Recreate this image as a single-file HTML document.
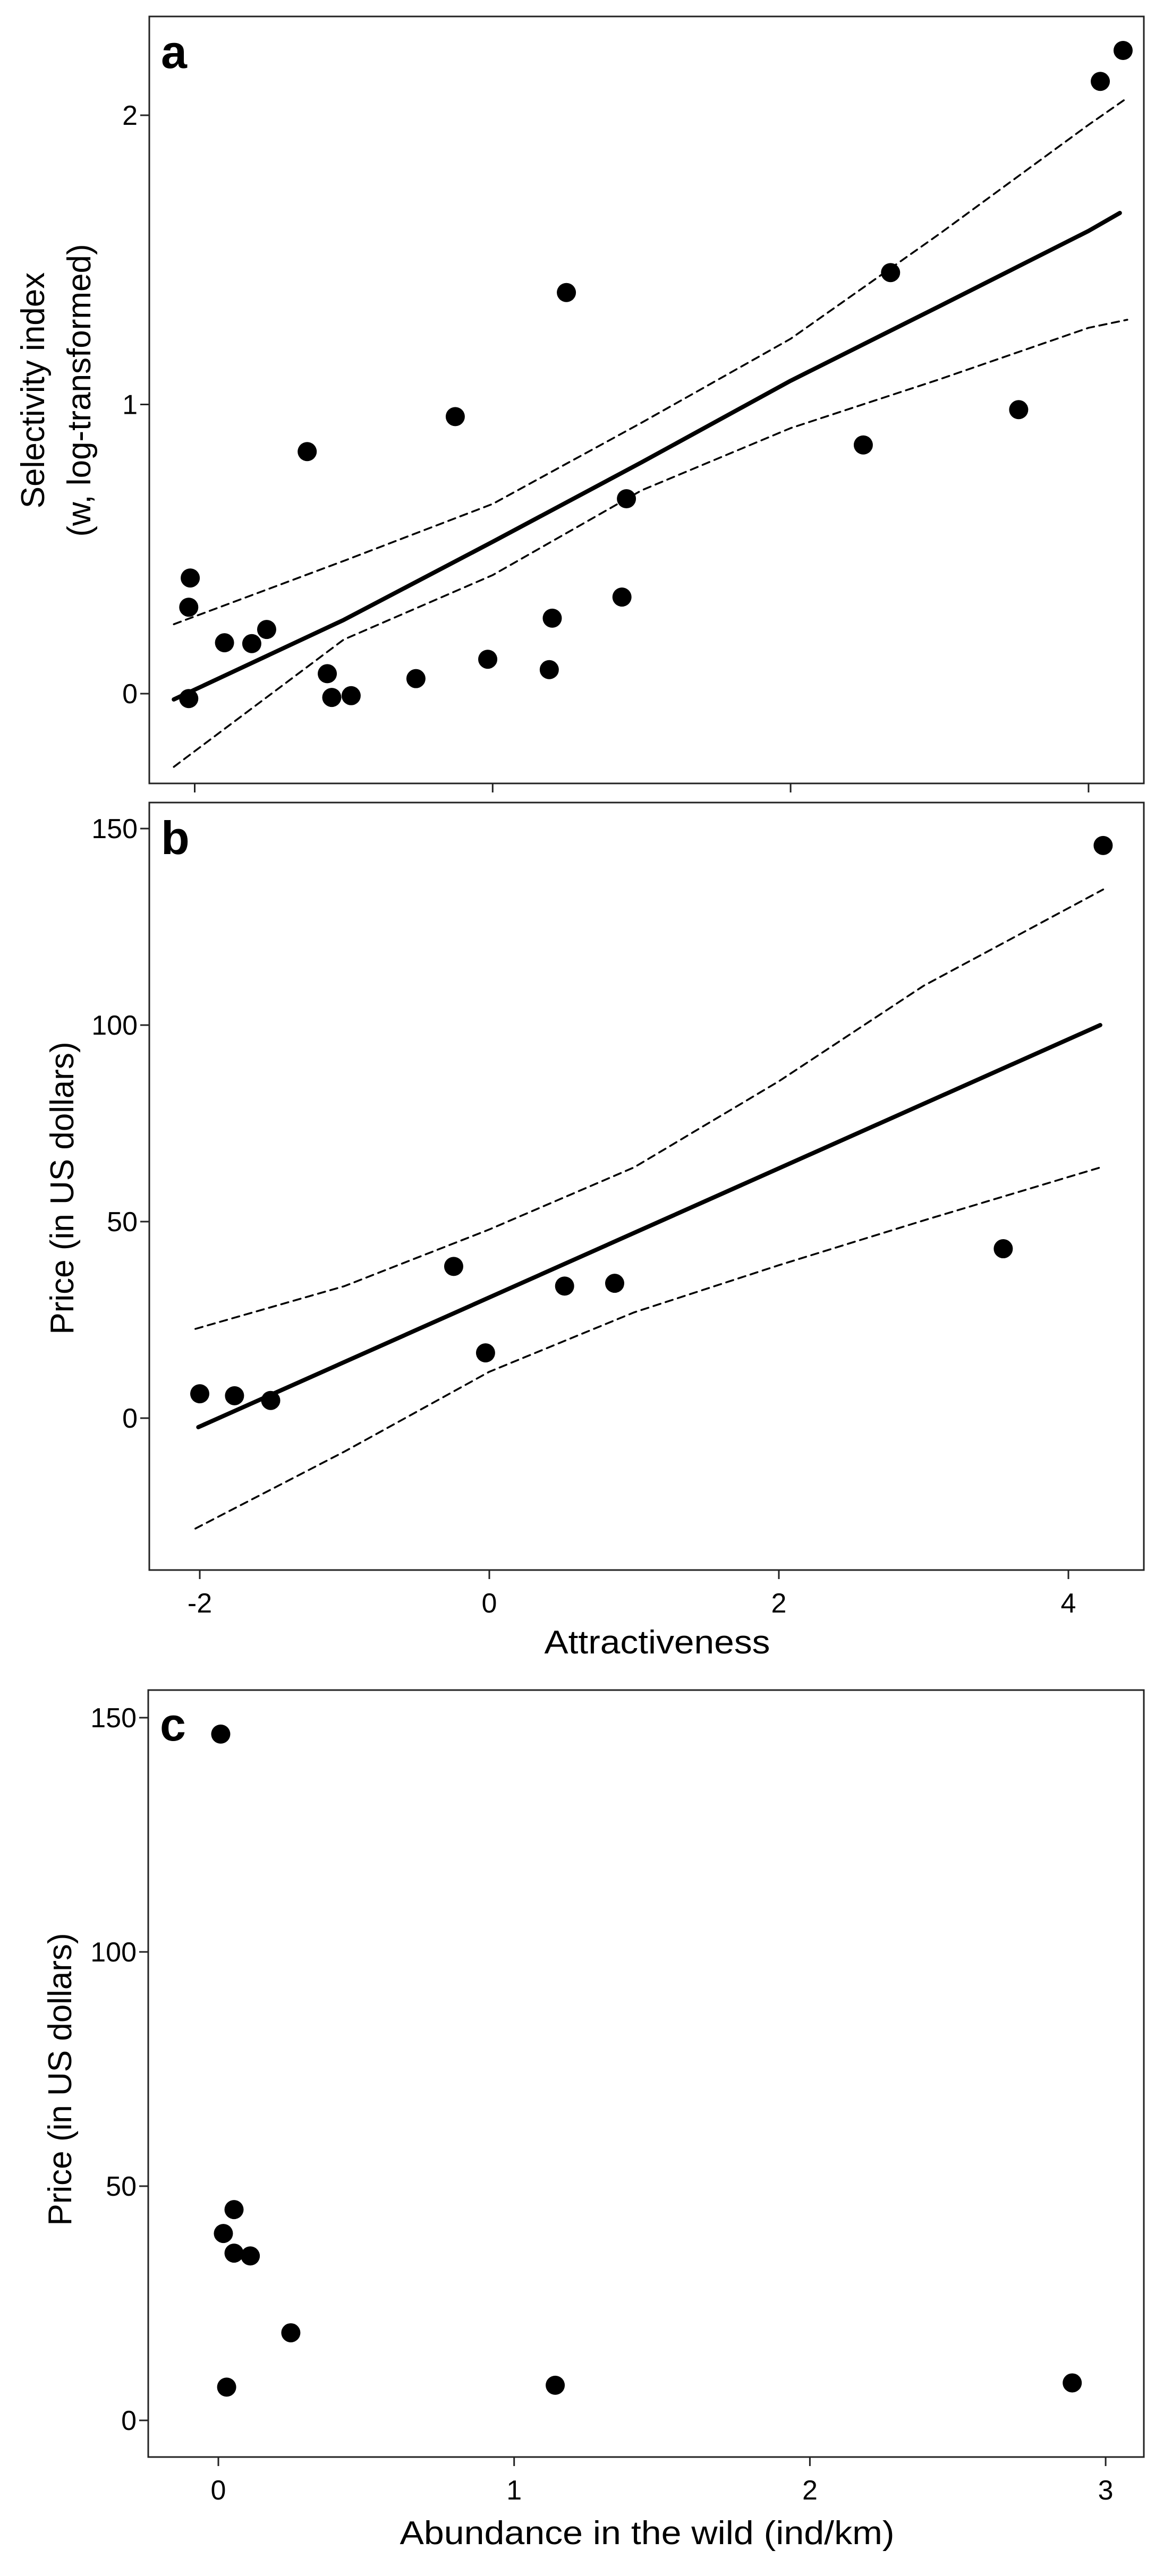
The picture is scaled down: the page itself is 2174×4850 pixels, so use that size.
<!DOCTYPE html>
<html><head><meta charset="utf-8"><style>
html,body{margin:0;padding:0;background:#fff}
svg{display:block}
text{font-family:"Liberation Sans",Arial,sans-serif;fill:#000}
.tick{font-size:52px}
.ttl{font-size:62px}
.lbl{font-size:88px;font-weight:bold}
</style></head><body>
<svg id="fig" width="2174" height="4850" viewBox="0 0 2174 4850" xmlns="http://www.w3.org/2000/svg">
<g id="pa"></g>
<g id="pb"></g>
<g id="pc"></g>
</svg>
<script>
// Panel a data
const aX = [4.232,4.079,2.671,0.495,3.531,2.488,-0.251,-1.245,0.898,-2.03,-2.04,0.868,0.40,-1.80,-1.617,-1.517,-1.11,-0.033,0.38,-0.515,-1.08,-0.95,-2.04];
const aY = [2.224,2.117,1.456,1.387,0.982,0.860,0.958,0.837,0.674,0.400,0.299,0.334,0.261,0.176,0.173,0.222,0.069,0.119,0.083,0.052,-0.013,-0.007,-0.017];
const aLineX = [-2.14,-1,0,1,2,3,4,4.21];
const aFit = [-0.02,0.255,0.525,0.80,1.082,1.34,1.60,1.662];
const aUpX = [-2.14,-1,0,1,2,3,4,4.26];
const aUp = [0.24,0.459,0.656,0.937,1.227,1.59,1.967,2.06];
const aLo = [-0.253,0.187,0.41,0.703,0.918,1.087,1.265,1.293];
const aYTicks = [0,1,2];
const aXTicks = [-2,0,2,4];
// Panel b data
const bX = [4.24,3.55,0.866,0.52,-0.246,-0.026,-2.0,-1.76,-1.51];
const bY = [145.7,43.1,34.3,33.6,38.6,16.6,6.2,5.7,4.5];
const bLineX = [-2.01,4.22];
const bFit = [-2.3,100];
const bCIX = [-2.03,-1,0,1,2,3,4.24];
const bUp = [22.7,33.6,48,63.8,85.7,110,134.5];
const bLo = [-28.1,-8.5,11.8,26.9,38.9,50.3,64];
const bYTicks = [0,50,100,150];
const bXTicks = [-2,0,2,4];
// Panel c data
const cX = [0.008,0.053,0.017,0.053,0.108,0.245,0.028,1.139,2.887];
const cY = [146.5,45.0,39.9,35.7,35.1,18.7,7.1,7.5,8.0];
const cYTicks = [0,50,100,150];
const cXTicks = [0,1,2,3];

const NS="http://www.w3.org/2000/svg";
function mk(parent,tag,attrs,txt){const e=document.createElementNS(NS,tag);for(const k in attrs)e.setAttribute(k,attrs[k]);if(txt!==undefined)e.textContent=txt;parent.appendChild(e);return e;}

function panel(g,box,sx,sy,xt,yt,showXLabels,letter,letterY){
  const r=mk(g,'rect',{x:box.l,y:box.t,width:box.r-box.l,height:box.b-box.t,fill:'none',stroke:'#222','stroke-width':3});
  
  
  xt.forEach(v=>{const x=sx(v);
    const t=mk(g,'line',{x1:x,x2:x,y1:box.b,y2:box.b+17,stroke:'#222','stroke-width':3});
    
    
    if(showXLabels){const l=mk(g,'text',{x:x,y:box.b+80,'text-anchor':'middle',class:'tick'},String(v));
      
      }
  });
  yt.forEach(v=>{const y=sy(v);
    const t=mk(g,'line',{x1:box.l-17,x2:box.l,y1:y,y2:y,stroke:'#222','stroke-width':3});
    
    
    const l=mk(g,'text',{x:box.l-22,y:y+18,'text-anchor':'end',class:'tick'},String(v));
    
    
  });
  const L=mk(g,'text',{x:box.l+22,y:letterY,class:'lbl'},letter);
  
  
}
function pts(g,xs,ys,sx,sy){xs.forEach((v,i)=>{const c=mk(g,'circle',{cx:sx(v),cy:sy(ys[i]),r:18,fill:'#000'});
  
  });}
function line(g,xs,ys,sx,sy,dash,w,name){const d=xs.map((v,i)=>(i?'L':'M')+sx(v).toFixed(1)+','+sy(ys[i]).toFixed(1)).join(' ');
  const p=mk(g,'path',{d:d,fill:'none',stroke:'#000','stroke-width':w,'stroke-dasharray':dash||'none','stroke-linecap':'round','stroke-linejoin':'round'});
  
  }

// Panel a
{const g=document.getElementById('pa');const box={l:281,r:2153,t:31,b:1475};
 const sx=v=>366.5+(v+2)*280.4, sy=v=>1306-v*544.5;
 panel(g,box,sx,sy,aXTicks,aYTicks,false,'a',128);
 line(g,aLineX,aFit,sx,sy,null,8,'fit-line');
 line(g,aUpX,aUp,sx,sy,'14 10',3.5,'ci-upper');
 line(g,aUpX,aLo,sx,sy,'14 10',3.5,'ci-lower');
 pts(g,aX,aY,sx,sy);
 const t1=mk(g,'text',{transform:'translate(83,735) rotate(-90)','text-anchor':'middle',class:'ttl'},'Selectivity index');
 
 
 const t2=mk(g,'text',{transform:'translate(170,735) rotate(-90)','text-anchor':'middle',class:'ttl'},'(w, log-transformed)');
 
 }
// Panel b
{const g=document.getElementById('pb');const box={l:281,r:2153,t:1511,b:2956};
 const sx=v=>376+(v+2)*272.5, sy=v=>2670-v*7.4;
 panel(g,box,sx,sy,bXTicks,bYTicks,true,'b',1608);
 line(g,bLineX,bFit,sx,sy,null,8,'fit-line');
 line(g,bCIX,bUp,sx,sy,'14 10',3.5,'ci-upper');
 line(g,bCIX,bLo,sx,sy,'14 10',3.5,'ci-lower');
 pts(g,bX,bY,sx,sy);
 const t=mk(g,'text',{transform:'translate(138,2237) rotate(-90)','text-anchor':'middle',class:'ttl'},'Price (in US dollars)');
 
 
 const x=mk(g,'text',{x:1237,y:3113,'text-anchor':'middle',class:'ttl',textLength:425,lengthAdjust:'spacingAndGlyphs'},'Attractiveness');
 
 }
// Panel c
{const g=document.getElementById('pc');const box={l:279,r:2153,t:3182,b:4626};
 const sx=v=>411+v*556.7, sy=v=>4557-v*8.82;
 panel(g,box,sx,sy,cXTicks,cYTicks,true,'c',3277);
 pts(g,cX,cY,sx,sy);
 const t=mk(g,'text',{transform:'translate(134,3915) rotate(-90)','text-anchor':'middle',class:'ttl'},'Price (in US dollars)');
 
 
 const x=mk(g,'text',{x:1218,y:4790,'text-anchor':'middle',class:'ttl',textLength:931,lengthAdjust:'spacingAndGlyphs'},'Abundance in the wild (ind/km)');
 
 }
</script>
</body></html>
